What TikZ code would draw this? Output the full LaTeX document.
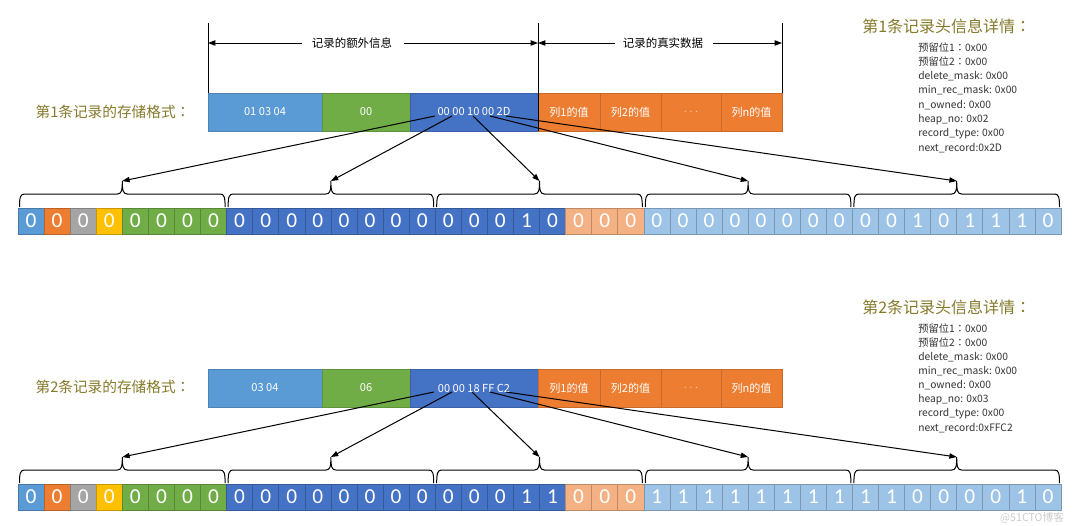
\documentclass[tikz,border=0pt]{standalone}
\usepackage{fontspec}
\setmainfont{Noto Sans CJK SC}
\newfontfamily\cjk{Noto Sans CJK SC}
\newfontfamily\cjkjp{Noto Sans CJK JP}
\newfontfamily\bitfont{Carlito}
\newcommand\fwc{{\cjkjp ：}}
\usetikzlibrary{arrows.meta,calc}
\definecolor{cMid}{HTML}{5B9BD5}
\definecolor{cGreen}{HTML}{70AD47}
\definecolor{cDark}{HTML}{4472C4}
\definecolor{cOrange}{HTML}{ED7D31}
\definecolor{cGray}{HTML}{A5A5A5}
\definecolor{cYellow}{HTML}{FFC000}
\definecolor{cLOrange}{HTML}{F4B183}
\definecolor{cLBlue}{HTML}{9DC3E6}
\definecolor{cOlive}{HTML}{857A2B}
\definecolor{cText}{HTML}{333333}
\tikzset{
  bit/.style={inner sep=0pt, outer sep=0pt, line width=0.45pt,
    minimum width=26.075*0.75pt, minimum height=26*0.75pt,
    text=white, font=\bitfont\fontsize{16}{18}\selectfont},
  seg/.style={inner sep=0pt, outer sep=0pt, line width=0.4pt,
    minimum height=38*0.75pt, text=white,
    font=\cjk\fontsize{8.3}{10}\selectfont},
  brc/.style={line width=0.75pt, black},
  arr/.style={line width=0.75pt, -{Triangle[length=5.5pt,width=4pt]}},
  vline/.style={line width=0.75pt},
  hdr/.style={font=\cjk\fontsize{8.6}{10}\selectfont, inner sep=0pt},
  rowlabel/.style={font=\cjk\fontsize{11}{13}\selectfont, text=cOlive, inner sep=0pt},
  infotitle/.style={font=\cjk\fontsize{12}{14}\selectfont, text=cOlive, inner sep=0pt, anchor=west},
  info/.style={font=\cjk\fontsize{7.7}{9}\selectfont, text=cText, inner sep=0pt, anchor=west},
}
\newcommand\bitrow[3]{%
  \foreach \c/\d [count=\i] in {#3} {
    \node[bit, fill=\c, draw=\c!78!black] (#1\i) at ({18+(\i-0.5)*26.075},#2) {\d};
  }%
}
\newcommand\bracerow[2]{%
  \foreach \k in {1,...,5} {
    \pgfmathsetmacro\xa{18+(\k-1)*208.6+1.5}
    \pgfmathsetmacro\xb{18+\k*208.6-1.5}
    \pgfmathsetmacro\xm{18+(\k-0.5)*208.6}
    \pgfmathsetmacro\yb{#2-1}
    \pgfmathsetmacro\yl{#2-14}
    \pgfmathsetmacro\yt{#2-27}
    \draw[brc] (\xa,\yb) .. controls (\xa,\yl+3) and (\xa+1,\yl) .. (\xa+5,\yl)
      -- (\xm-5,\yl) .. controls (\xm-1,\yl) and (\xm,\yl-3) .. (\xm,\yt)
      .. controls (\xm,\yl-3) and (\xm+1,\yl) .. (\xm+5,\yl)
      -- (\xb-5,\yl) .. controls (\xb-1,\yl) and (\xb,\yl+3) .. (\xb,\yb);
    \coordinate (#1\k) at (\xm,\yt);
  }%
}
\newcommand\recrow[5]{% #1 prefix, #2 y center, #3 A text, #4 B text, #5 C text
  \node[seg, fill=cMid, draw=cMid!85!black, minimum width=114*0.75pt] (#1a) at (265,#2) {#3};
  \node[seg, fill=cGreen, draw=cGreen!85!black, minimum width=88*0.75pt] (#1b) at (366,#2) {#4};
  \node[seg, fill=cDark, draw=cDark!85!black, minimum width=128*0.75pt] (#1c) at (474,#2) {#5};
  \node[seg, fill=cOrange, draw=cOrange!85!black, minimum width=62*0.75pt] (#1d) at (569,#2) {列1的值};
  \node[seg, fill=cOrange, draw=cOrange!85!black, minimum width=61*0.75pt] (#1e) at (630.5,#2) {列2的值};
  \node[seg, fill=cOrange, draw=cOrange!85!black, minimum width=60*0.75pt, text=white!75!cOrange] (#1f) at (691,#2) {$\cdot\cdot\cdot$};
  \node[seg, fill=cOrange, draw=cOrange!85!black, minimum width=61*0.75pt] (#1g) at (751.5,#2) {列n的值};
}
\begin{document}
\begin{tikzpicture}[x=0.75pt,y=-0.75pt]
\useasboundingbox[fill=white] (0,0) rectangle (1080,525);

% ---------- header ----------
\coordinate (hA) at (208,43);
\coordinate (hB) at (538,43);
\coordinate (hC) at (782,43);
\coordinate (vA) at (208,23);
\coordinate (vB) at (538,23);
\coordinate (vC) at (782,23);

% ---------- record 1 ----------
\recrow{r1}{112}{01 03 04}{00}{00 00 10 00 2D}
\draw[vline] (vA) -- (r1a.north west);
\draw[vline] (vB) -- (r1d.south west);
\draw[vline] (vC) -- (r1g.north east);
\node[hdr] (h1) at (352,43) {记录的额外信息};
\node[hdr] (h2) at (663,43) {记录的真实数据};
\draw[arr] ($(h1.west)+(-10,0)$) -- (hA);
\draw[arr] ($(h1.east)+(12,0)$) -- (hB);
\draw[arr] ($(h2.west)+(-8,0)$) -- (hB);
\draw[arr] ($(h2.east)+(10,0)$) -- (hC);

\node[rowlabel] (l1) at (113,112) {第1条记录的存储格式\fwc};

\bitrow{a}{221}{cMid/0,cOrange/0,cGray/0,cYellow/0,cGreen/0,cGreen/0,cGreen/0,cGreen/0,
  cDark/0,cDark/0,cDark/0,cDark/0,cDark/0,cDark/0,cDark/0,cDark/0,
  cDark/0,cDark/0,cDark/0,cDark/1,cDark/0,cLOrange/0,cLOrange/0,cLOrange/0,
  cLBlue/0,cLBlue/0,cLBlue/0,cLBlue/0,cLBlue/0,cLBlue/0,cLBlue/0,cLBlue/0,
  cLBlue/0,cLBlue/0,cLBlue/1,cLBlue/0,cLBlue/1,cLBlue/1,cLBlue/1,cLBlue/0}
\bracerow{u}{208}
\draw[arr] ($(r1c)+(-39,4)$) -- (u1);
\draw[arr] ($(r1c)+(-22,4)$) -- (u2);
\draw[arr] ($(r1c)+(-1,4)$) -- (u3);
\draw[arr] ($(r1c)+(16,4)$) -- (u4);
\draw[arr] ($(r1c)+(32,4)$) -- (u5);

\node[infotitle] (t1) at (862,26) {第1条记录头信息详情\fwc};
\foreach \t [count=\i] in {预留位1\fwc 0x00,预留位2\fwc 0x00,delete\_mask: 0x00,min\_rec\_mask: 0x00,n\_owned: 0x00,heap\_no: 0x02,record\_type: 0x00,next\_record:0x2D}
  \node[info] (p\i) at (918,{47.7+(\i-1)*14.3}) {\t};

% ---------- record 2 ----------
\recrow{r2}{388}{03 04}{06}{00 00 18 FF C2}
\node[rowlabel] (l2) at (113,387) {第2条记录的存储格式\fwc};

\bitrow{b}{497}{cMid/0,cOrange/0,cGray/0,cYellow/0,cGreen/0,cGreen/0,cGreen/0,cGreen/0,
  cDark/0,cDark/0,cDark/0,cDark/0,cDark/0,cDark/0,cDark/0,cDark/0,
  cDark/0,cDark/0,cDark/0,cDark/1,cDark/1,cLOrange/0,cLOrange/0,cLOrange/0,
  cLBlue/1,cLBlue/1,cLBlue/1,cLBlue/1,cLBlue/1,cLBlue/1,cLBlue/1,cLBlue/1,
  cLBlue/1,cLBlue/1,cLBlue/0,cLBlue/0,cLBlue/0,cLBlue/0,cLBlue/1,cLBlue/0}
\bracerow{w}{484}
\draw[arr] ($(r2c)+(-40,4)$) -- (w1);
\draw[arr] ($(r2c)+(-22,4)$) -- (w2);
\draw[arr] ($(r2c)+(-2,4)$) -- (w3);
\draw[arr] ($(r2c)+(16,4)$) -- (w4);
\draw[arr] ($(r2c)+(32,4)$) -- (w5);

\node[infotitle] (t2) at (862,307) {第2条记录头信息详情\fwc};
\foreach \t [count=\i] in {预留位1\fwc 0x00,预留位2\fwc 0x00,delete\_mask: 0x00,min\_rec\_mask: 0x00,n\_owned: 0x00,heap\_no: 0x03,record\_type: 0x00,next\_record:0xFFC2}
  \node[info] (q\i) at (918,{328.3+(\i-1)*14.3}) {\t};

\node[font=\cjk\fontsize{8}{9}\selectfont, text=gray!40, inner sep=0pt] (wm) at (1032,518) {@51CTO博客};
\end{tikzpicture}
\end{document}
